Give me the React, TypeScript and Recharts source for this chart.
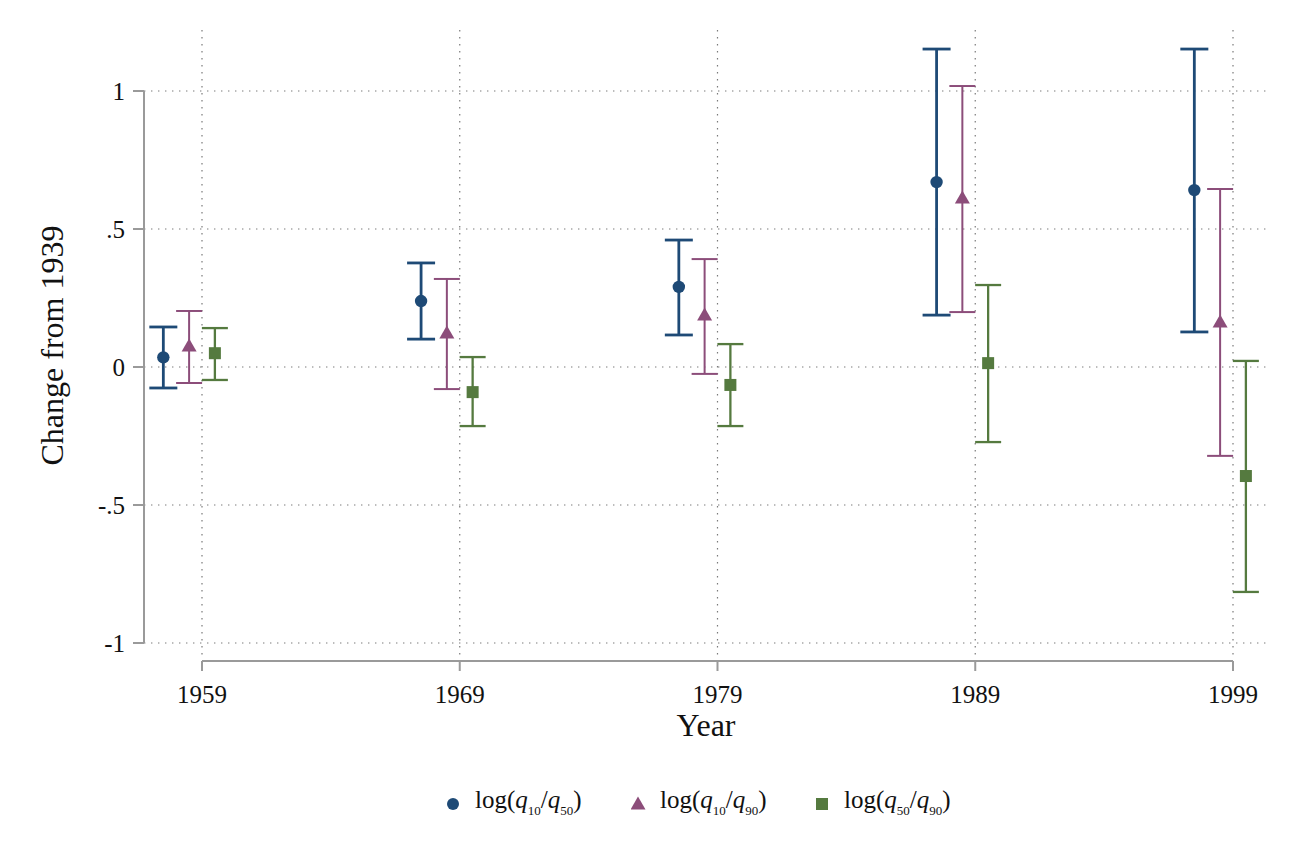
import React from 'react';
import {
  ComposedChart, Scatter, XAxis, YAxis, CartesianGrid, ErrorBar, ReferenceLine, Label,
} from 'recharts';

// ---- data ----
const years = [1959, 1969, 1979, 1989, 1999];
const yTicks = [-1, -0.5, 0, 0.5, 1];

const q10q50Est = [0.035, 0.239, 0.29, 0.67, 0.641];
const q10q50Lo = [-0.076, 0.101, 0.116, 0.188, 0.127];
const q10q50Hi = [0.145, 0.377, 0.46, 1.152, 1.152];

const q10q90Est = [0.076, 0.123, 0.188, 0.612, 0.163];
const q10q90Lo = [-0.058, -0.08, -0.025, 0.199, -0.322];
const q10q90Hi = [0.203, 0.319, 0.391, 1.018, 0.645];

const q50q90Est = [0.05, -0.091, -0.065, 0.014, -0.395];
const q50q90Lo = [-0.047, -0.214, -0.214, -0.272, -0.815];
const q50q90Hi = [0.141, 0.036, 0.083, 0.297, 0.022];

const seriesOffsets = [-1.5, -0.5, 0.5];

const BLUE = '#1e4a76';
const PURPLE = '#8c4d7a';
const GREEN = '#557a3f';
const AXIS = '#9a9a9a';
const FONT = '"Liberation Serif", "Times New Roman", serif';

const X_MIN = 1956.75;
const X_MAX = 2000.358;
const Y_MIN = -1.0652;
const Y_MAX = 1.221;

const build = (est: number[], lo: number[], hi: number[], off: number) =>
  years.map((yr, i) => ({ x: yr + off, y: est[i], err: [est[i] - lo[i], hi[i] - est[i]] }));

const dataA = build(q10q50Est, q10q50Lo, q10q50Hi, seriesOffsets[0]);
const dataB = build(q10q90Est, q10q90Lo, q10q90Hi, seriesOffsets[1]);
const dataC = build(q50q90Est, q50q90Lo, q50q90Hi, seriesOffsets[2]);

const CircleShape = (p: any) => <circle cx={p.cx} cy={p.cy} r={6.2} fill={BLUE} />;
const TriShape = (p: any) => (
  <polygon
    points={`${p.cx},${p.cy - 7.5} ${p.cx - 7.5},${p.cy + 5.5} ${p.cx + 7.5},${p.cy + 5.5}`}
    fill={PURPLE}
  />
);
const SquareShape = (p: any) => <rect x={p.cx - 6} y={p.cy - 6} width={12} height={12} fill={GREEN} />;

const fmtY = (v: number) => {
  if (v === 0) return '0';
  if (v === 1) return '1';
  if (v === -1) return '-1';
  if (v === 0.5) return '.5';
  if (v === -0.5) return '-.5';
  return String(v);
};

const VLine = (p: any) => (
  <line
    key={p.key}
    x1={p.x1}
    x2={p.x2}
    y1={p.y1}
    y2={p.y2 - 6}
    stroke="#7a7a7a"
    strokeWidth={1.2}
    strokeDasharray="1.4 5.6"
  />
);

const LegendLabel = ({ a, b }: { a: string; b: string }) => (
  <span style={{ fontSize: 25, fontFamily: FONT, whiteSpace: 'nowrap' }}>
    log(<i>q</i>
    <sub style={{ fontSize: 13, verticalAlign: '-7px' }}>{a}</sub>/<i>q</i>
    <sub style={{ fontSize: 13, verticalAlign: '-7px' }}>{b}</sub>)
  </span>
);

export default function App() {
  return (
    <div style={{ position: 'absolute', left: 0, top: 0, width: 1296, height: 865, background: '#fff', fontFamily: FONT }}>
      <ComposedChart
        width={1296}
        height={865}
        margin={{ top: 30, right: 28, left: 0, bottom: 144 }}
        style={{ fontFamily: FONT }}
      >
        <CartesianGrid
          stroke="#7a7a7a"
          strokeWidth={1.2}
          strokeDasharray="1.4 5.6"
          syncWithTicks
          vertical={VLine}
        />
        <XAxis
          type="number"
          dataKey="x"
          domain={[X_MIN, X_MAX]}
          allowDataOverflow
          ticks={years}
          interval={0}
          height={60}
          axisLine={false}
          tickLine={{ stroke: AXIS, strokeWidth: 2 }}
          tickSize={10}
          tickMargin={14}
          tick={{ fill: '#111', fontSize: 25, fontFamily: FONT }}
        >
          <Label
            value="Year"
            position="bottom"
            offset={-8}
            style={{ fill: '#111', fontSize: 32, fontFamily: FONT }}
          />
        </XAxis>
        <YAxis
          type="number"
          dataKey="y"
          domain={[Y_MIN, Y_MAX]}
          allowDataOverflow
          ticks={yTicks}
          interval={0}
          width={144}
          axisLine={false}
          tickLine={{ stroke: AXIS, strokeWidth: 2 }}
          tickSize={11}
          tickMargin={8}
          tickFormatter={fmtY}
          tick={{ fill: '#111', fontSize: 25, fontFamily: FONT }}
        >
          <Label
            content={(props: any) => {
              const vb = props.viewBox || {};
              const cx = (vb.x ?? 0) + 52;
              const cy = (vb.y ?? 0) + (vb.height ?? 0) / 2;
              return (
                <text
                  x={cx}
                  y={cy}
                  transform={`rotate(-90 ${cx} ${cy})`}
                  textAnchor="middle"
                  dominantBaseline="central"
                  fill="#111"
                  fontSize={32}
                  fontFamily={FONT}
                >
                  Change from 1939
                </text>
              );
            }}
          />
        </YAxis>
        <ReferenceLine
          segment={[{ x: X_MIN, y: -1 }, { x: X_MIN, y: 1 }]}
          stroke={AXIS}
          strokeWidth={2}
          ifOverflow="visible"
        />
        <ReferenceLine
          segment={[{ x: years[0], y: Y_MIN }, { x: years[years.length - 1], y: Y_MIN }]}
          stroke={AXIS}
          strokeWidth={2}
          ifOverflow="visible"
        />
        <Scatter data={dataA} fill={BLUE} shape={CircleShape} isAnimationActive={false}>
          <ErrorBar dataKey="err" direction="y" width={14} stroke={BLUE} strokeWidth={2.8} isAnimationActive={false} />
        </Scatter>
        <Scatter data={dataB} fill={PURPLE} shape={TriShape} isAnimationActive={false}>
          <ErrorBar dataKey="err" direction="y" width={13} stroke={PURPLE} strokeWidth={2} isAnimationActive={false} />
        </Scatter>
        <Scatter data={dataC} fill={GREEN} shape={SquareShape} isAnimationActive={false}>
          <ErrorBar dataKey="err" direction="y" width={13} stroke={GREEN} strokeWidth={2.3} isAnimationActive={false} />
        </Scatter>
      </ComposedChart>
      <div
        style={{
          position: 'absolute',
          left: 446,
          top: 785,
          display: 'flex',
          alignItems: 'center',
          gap: 0,
          color: '#111',
          lineHeight: '30px',
        }}
      >
        <svg width={29} height={30}>
          <circle cx={7} cy={13} r={6} fill={BLUE} />
        </svg>
        <div style={{ width: 156 }}>
          <LegendLabel a="10" b="50" />
        </div>
        <svg width={29} height={30}>
          <polygon points="7,5.5 -0.5,18.5 14.5,18.5" fill={PURPLE} />
        </svg>
        <div style={{ width: 155 }}>
          <LegendLabel a="10" b="90" />
        </div>
        <svg width={29} height={30}>
          <rect x={1} y={7} width={12} height={12} fill={GREEN} />
        </svg>
        <div>
          <LegendLabel a="50" b="90" />
        </div>
      </div>
    </div>
  );
}
